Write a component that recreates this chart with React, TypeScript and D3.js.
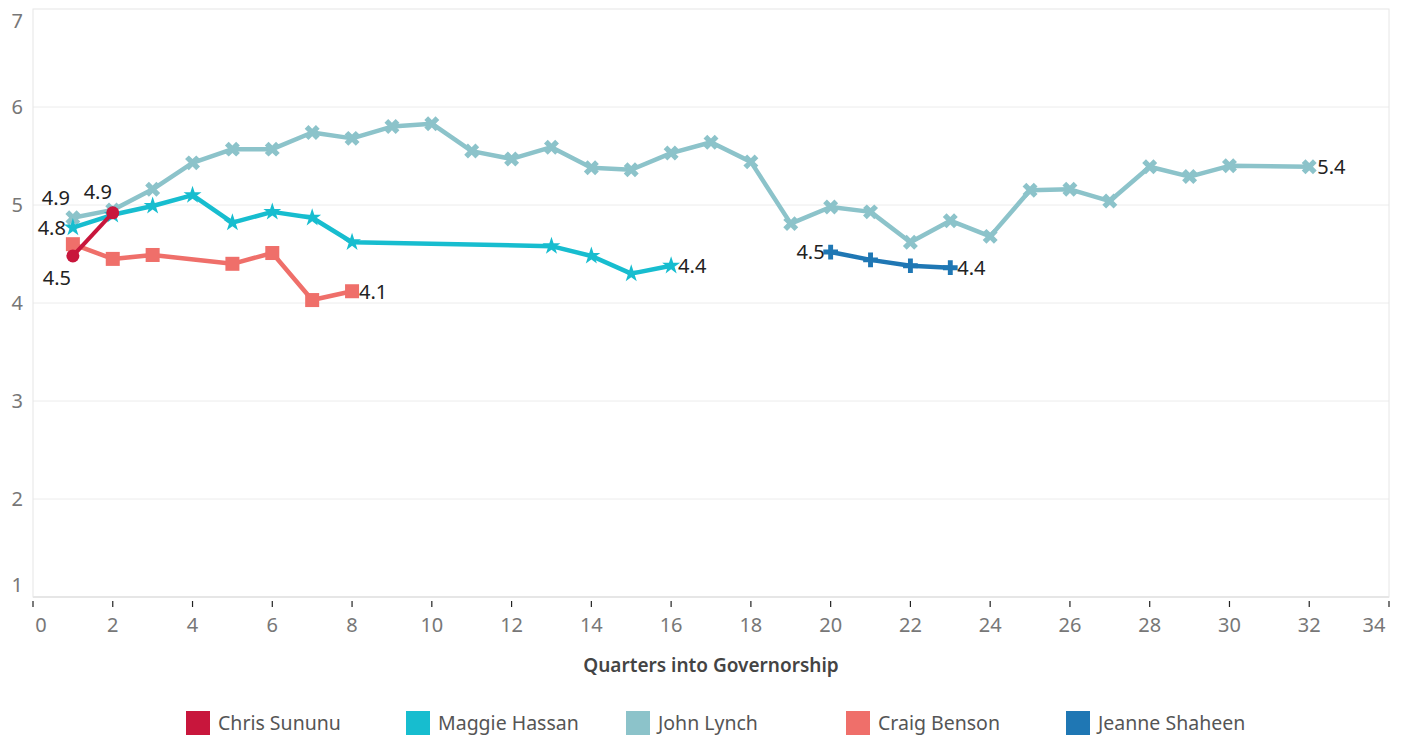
import React from "react";
import * as d3 from "d3";

// quarter numbers and approval values per governor
const sununuQ = [1, 2];
const sununuV = [4.48, 4.92];

const hassanQ = [1, 2, 3, 4, 5, 6, 7, 8, 13, 14, 15, 16];
const hassanV = [4.77, 4.9, 4.99, 5.1, 4.82, 4.93, 4.87, 4.62, 4.58, 4.48, 4.3, 4.38];

const lynchQ = [
  1, 2, 3, 4, 5, 6, 7, 8, 9, 10, 11, 12, 13, 14, 15, 16, 17, 18, 19, 20, 21, 22, 23, 24, 25,
  26, 27, 28, 29, 30, 32,
];
const lynchV = [
  4.87, 4.95, 5.16, 5.43, 5.57, 5.57, 5.74, 5.68, 5.8, 5.83, 5.55, 5.47, 5.59, 5.38, 5.36,
  5.53, 5.64, 5.44, 4.81, 4.98, 4.93, 4.62, 4.84, 4.68, 5.15, 5.16, 5.04, 5.39, 5.29, 5.4,
  5.39,
];

const bensonQ = [1, 2, 3, 5, 6, 7, 8];
const bensonV = [4.6, 4.45, 4.49, 4.4, 4.51, 4.03, 4.12];

const shaheenQ = [20, 21, 22, 23];
const shaheenV = [4.52, 4.44, 4.38, 4.36];

const xTicks = d3.range(0, 35, 2);
const yTicks = [1, 2, 3, 4, 5, 6, 7];

const FONT = "'Noto Sans', 'Open Sans', sans-serif";

type Series = {
  name: string;
  color: string;
  q: number[];
  v: number[];
  marker: string;
  width: number;
};

const series: Series[] = [
  { name: "John Lynch", color: "#8cc3ca", q: lynchQ, v: lynchV, marker: "x", width: 4.5 },
  { name: "Craig Benson", color: "#ef6f6a", q: bensonQ, v: bensonV, marker: "square", width: 4.5 },
  { name: "Maggie Hassan", color: "#17bdcf", q: hassanQ, v: hassanV, marker: "star", width: 4.5 },
  { name: "Jeanne Shaheen", color: "#1f77b4", q: shaheenQ, v: shaheenV, marker: "plus", width: 4.5 },
  { name: "Chris Sununu", color: "#c8163c", q: sununuQ, v: sununuV, marker: "circle", width: 4 },
];

const legendOrder = ["Chris Sununu", "Maggie Hassan", "John Lynch", "Craig Benson", "Jeanne Shaheen"];

const Marker = ({ type, x, y, color }: { type: string; x: number; y: number; color: string }) => {
  if (type === "circle") return <circle cx={x} cy={y} r={6.5} fill={color} />;
  if (type === "square") return <rect x={x - 7} y={y - 7} width={14} height={14} fill={color} />;
  if (type === "star")
    return <path d={d3.symbol(d3.symbolStar, 100)()!} transform={`translate(${x},${y})`} fill={color} />;
  if (type === "plus")
    return <path d={d3.symbol(d3.symbolCross, 120)()!} transform={`translate(${x},${y})`} fill={color} />;
  return (
    <path d={d3.symbol(d3.symbolCross, 140)()!} transform={`translate(${x},${y}) rotate(45)`} fill={color} />
  );
};

export default function App() {
  const width = 1403;
  const height = 739;
  const left = 33;
  const right = 1389;
  const top = 9;
  const bottom = 597;

  const x = d3.scaleLinear().domain([0, 34]).range([left, right]);
  const y = d3.scaleLinear().domain([1, 7]).range([bottom, top]);

  const line = (s: Series) =>
    d3
      .line<number>()
      .x((_, i) => x(s.q[i]))
      .y((d) => y(d))(s.v)!;

  const first = (s: Series) => ({ px: x(s.q[0]), py: y(s.v[0]) });
  const last = (s: Series) => ({ px: x(s.q[s.q.length - 1]), py: y(s.v[s.v.length - 1]) });
  const byName = (n: string) => series.find((s) => s.name === n)!;

  // end-point value labels: [series, which end, dx, dy, anchor]
  const labels: [string, "first" | "last", number, number, string][] = [
    ["John Lynch", "first", -17, -20, "middle"],
    ["John Lynch", "last", 8, 0, "start"],
    ["Maggie Hassan", "first", -7, 0, "end"],
    ["Maggie Hassan", "last", 7, 0, "start"],
    ["Craig Benson", "last", 7, 1, "start"],
    ["Jeanne Shaheen", "first", -6, 0, "end"],
    ["Jeanne Shaheen", "last", 7, 0, "start"],
    ["Chris Sununu", "first", -16, 22, "middle"],
    ["Chris Sununu", "last", -15, -21, "middle"],
  ];

  return (
    <svg
      width={width}
      height={height}
      style={{ position: "absolute", left: 0, top: 0, background: "#fff" }}
      fontFamily={FONT}
    >
      {/* grid */}
      {yTicks.slice(1, -1).map((t) => (
        <line key={t} x1={left} x2={right} y1={y(t)} y2={y(t)} stroke="#ececec" strokeWidth={1} />
      ))}
      <rect x={left} y={top} width={right - left} height={bottom - top} fill="none" stroke="#e6e6e6" />
      <line x1={left} x2={right} y1={bottom} y2={bottom} stroke="#e6e6e6" strokeWidth={2} />

      {/* y labels */}
      {yTicks.map((t) => {
        let yy = y(t);
        if (t === 7) yy += 12;
        if (t === 1) yy -= 12;
        return (
          <text key={t} x={23} y={yy} dy="0.35em" textAnchor="end" fontSize={20} fill="#777">
            {t}
          </text>
        );
      })}

      {/* x axis */}
      {xTicks.map((t) => {
        let tx = x(t);
        if (t === 0) tx += 8;
        if (t === 34) tx -= 15;
        return (
          <g key={t}>
            <line x1={x(t)} x2={x(t)} y1={601} y2={607} stroke="#222" strokeWidth={1.2} />
            <text x={tx} y={632} textAnchor="middle" fontSize={20} fill="#777">
              {t}
            </text>
          </g>
        );
      })}
      <text x={711} y={672} textAnchor="middle" fontSize={19} fontWeight={600} fill="#444">
        Quarters into Governorship
      </text>

      {/* lines + markers */}
      {series.map((s) => (
        <g key={s.name}>
          <path d={line(s)} fill="none" stroke={s.color} strokeWidth={s.width} strokeLinejoin="round" />
          {s.q.map((q, i) => (
            <Marker key={i} type={s.marker} x={x(q)} y={y(s.v[i])} color={s.color} />
          ))}
        </g>
      ))}

      {/* value labels */}
      {labels.map(([n, end, dx, dy, anchor], i) => {
        const s = byName(n);
        const p = end === "first" ? first(s) : last(s);
        const val = end === "first" ? s.v[0] : s.v[s.v.length - 1];
        return (
          <text
            key={i}
            x={p.px + dx}
            y={p.py + dy}
            dy="0.35em"
            textAnchor={anchor}
            fontSize={20}
            fill="#222"
          >
            {val.toFixed(1)}
          </text>
        );
      })}

      {/* legend */}
      {legendOrder.map((n, i) => {
        const s = byName(n);
        const lx = 186 + i * 220;
        return (
          <g key={n}>
            <rect x={lx} y={711} width={24} height={24} fill={s.color} />
            <text x={lx + 32} y={723} dy="0.35em" fontSize={19.5} fill="#555">
              {n}
            </text>
          </g>
        );
      })}
    </svg>
  );
}
